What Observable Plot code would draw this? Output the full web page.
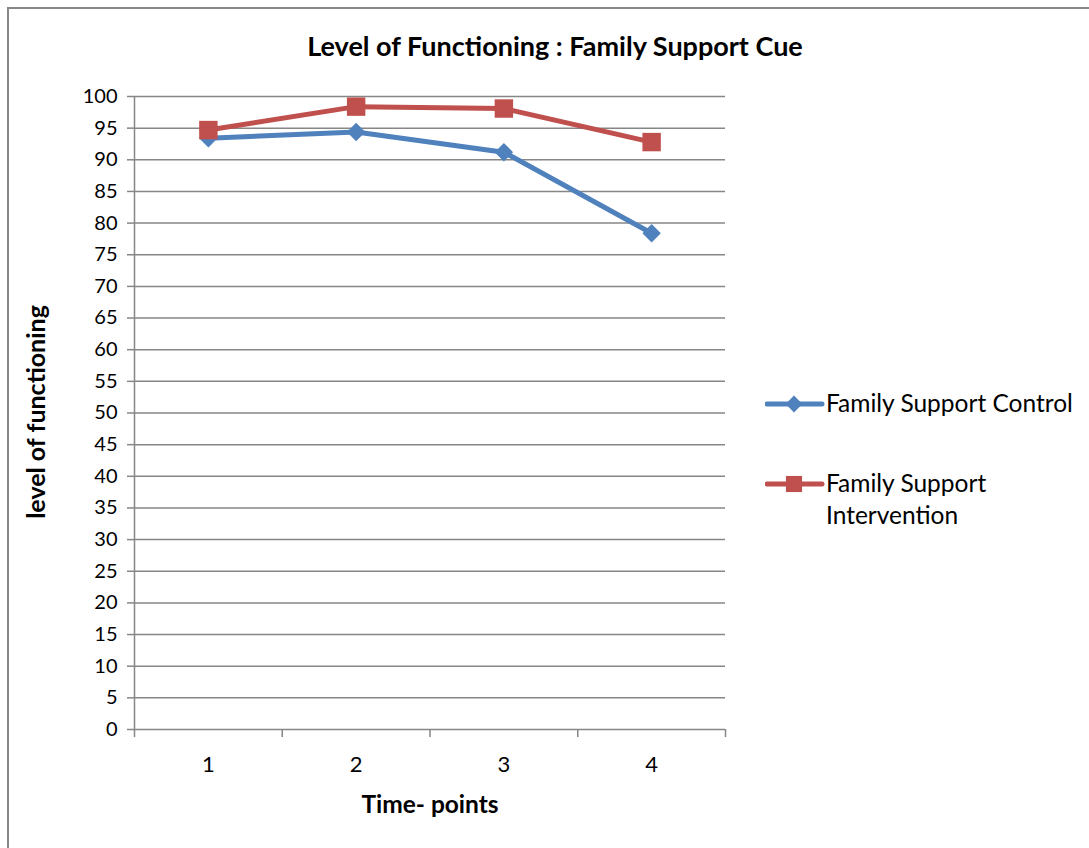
<!DOCTYPE html>
<html>
<head>
<meta charset="utf-8">
<script src="https://cdn.jsdelivr.net/npm/d3@7"></script>
<script src="https://cdn.jsdelivr.net/npm/@observablehq/plot@0.6"></script>
<style>
  html, body { margin: 0; padding: 0; background: #fff; }
  body { width: 1089px; height: 848px; overflow: hidden; position: relative; font-family: Lato, "Open Sans", sans-serif; color: #000; }
  #frame { position: absolute; left: 7px; top: 7px; width: 1200px; height: 1000px; border-left: 2px solid #878787; border-top: 2px solid #878787; box-sizing: border-box; }
  #chart { position: absolute; left: 0; top: 0; }
  .title { position: absolute; left: 0; width: 1110px; top: 30px; text-align: center; font-weight: bold; font-size: 27px; line-height: 32px; }
  .ytitle { position: absolute; left: 35px; top: 412px; transform: translate(-50%, -50%) rotate(-90deg); white-space: nowrap; font-weight: bold; font-size: 25px; }
  .xtitle { position: absolute; left: 430px; top: 803px; transform: translate(-50%, -50%); white-space: nowrap; font-weight: bold; font-size: 24.5px; }
  .legend { position: absolute; left: 765px; font-size: 24.5px; line-height: 32px; }
  .legend svg { position: absolute; left: 0; top: 0; }
  .legend span { position: absolute; left: 61px; top: -17px; white-space: nowrap; }
</style>
</head>
<body>
<div id="frame"></div>
<div id="chart"></div>
<div class="title">Level of Functioning : Family Support Cue</div>
<div class="ytitle">level of functioning</div>
<div class="xtitle">Time- points</div>
<div id="legend"></div>
<script>
const timePoints = [1, 2, 3, 4];
const controlValues = [93.4, 94.4, 91.2, 78.4];
const interventionValues = [94.7, 98.4, 98.1, 92.8];
const seriesNames = ["Family Support Control", "Family Support Intervention"];
const seriesColors = ["#4F81BD", "#C0504D"];
const yTicks = d3.range(0, 101, 5);
const xBoundaries = [0.5, 1.5, 2.5, 3.5, 4.5];

const rows = [];
timePoints.forEach((t, i) => {
  rows.push({t, v: controlValues[i], s: seriesNames[0]});
});
timePoints.forEach((t, i) => {
  rows.push({t, v: interventionValues[i], s: seriesNames[1]});
});
const control = rows.filter(d => d.s === seriesNames[0]);
const intervention = rows.filter(d => d.s === seriesNames[1]);

const plot = Plot.plot({
  width: 1089,
  height: 848,
  marginLeft: 134,
  marginRight: 364,
  marginTop: 96,
  marginBottom: 119,
  style: {fontFamily: "Lato, 'Open Sans', sans-serif", fontSize: "20px", color: "#000", background: "transparent"},
  x: {domain: [0.5, 4.5]},
  y: {domain: [0, 100]},
  color: {domain: seriesNames, range: seriesColors},
  marks: [
    Plot.gridY(yTicks, {stroke: "#868686", strokeOpacity: 1, strokeWidth: 1.5}),
    Plot.ruleX([0.5], {stroke: "#868686", strokeWidth: 1.5}),
    Plot.axisY(yTicks, {tickSize: 7, tickPadding: 10, stroke: "#868686", strokeWidth: 1.5, label: null, fontSize: 20, fill: "#000"}),
    Plot.axisX(xBoundaries, {tickSize: 8, text: null, stroke: "#868686", strokeWidth: 1.5, label: null}),
    Plot.axisX(timePoints, {tickSize: 0, tickPadding: 27, tickFormat: d3.format("d"), label: null, fontSize: 22, fill: "#000"}),
    Plot.line(control, {x: "t", y: "v", stroke: "s", strokeWidth: 5, strokeLinejoin: "round", strokeLinecap: "round"}),
    Plot.line(intervention, {x: "t", y: "v", stroke: "s", strokeWidth: 5, strokeLinejoin: "round", strokeLinecap: "round"}),
    Plot.dot(control, {x: "t", y: "v", fill: "s", symbol: "diamond2", r: 8.3}),
    Plot.dot(intervention, {x: "t", y: "v", fill: "s", symbol: "square", r: 10.4})
  ]
});
document.getElementById("chart").appendChild(plot);

// Legend
const legend = document.getElementById("legend");
const legendTops = [404, 484];
const legendSymbols = [d3.symbolDiamond2, d3.symbolSquare];
const legendSizes = [180, 260];
seriesNames.forEach((name, i) => {
  const item = document.createElement("div");
  item.className = "legend";
  item.style.top = legendTops[i] + "px";
  const ns = "http://www.w3.org/2000/svg";
  const svg = document.createElementNS(ns, "svg");
  svg.setAttribute("width", 60);
  svg.setAttribute("height", 24);
  svg.style.top = "-12px";
  const line = document.createElementNS(ns, "line");
  line.setAttribute("x1", 2); line.setAttribute("x2", 57);
  line.setAttribute("y1", 12); line.setAttribute("y2", 12);
  line.setAttribute("stroke", seriesColors[i]);
  line.setAttribute("stroke-width", 5);
  line.setAttribute("stroke-linecap", "round");
  svg.appendChild(line);
  const p = document.createElementNS(ns, "path");
  p.setAttribute("d", d3.symbol(legendSymbols[i], legendSizes[i])());
  p.setAttribute("transform", "translate(29,12)");
  p.setAttribute("fill", seriesColors[i]);
  svg.appendChild(p);
  item.appendChild(svg);
  const span = document.createElement("span");
  span.innerHTML = i === 1 ? "Family Support<br>Intervention" : name;
  item.appendChild(span);
  legend.appendChild(item);
});
</script>
</body>
</html>
